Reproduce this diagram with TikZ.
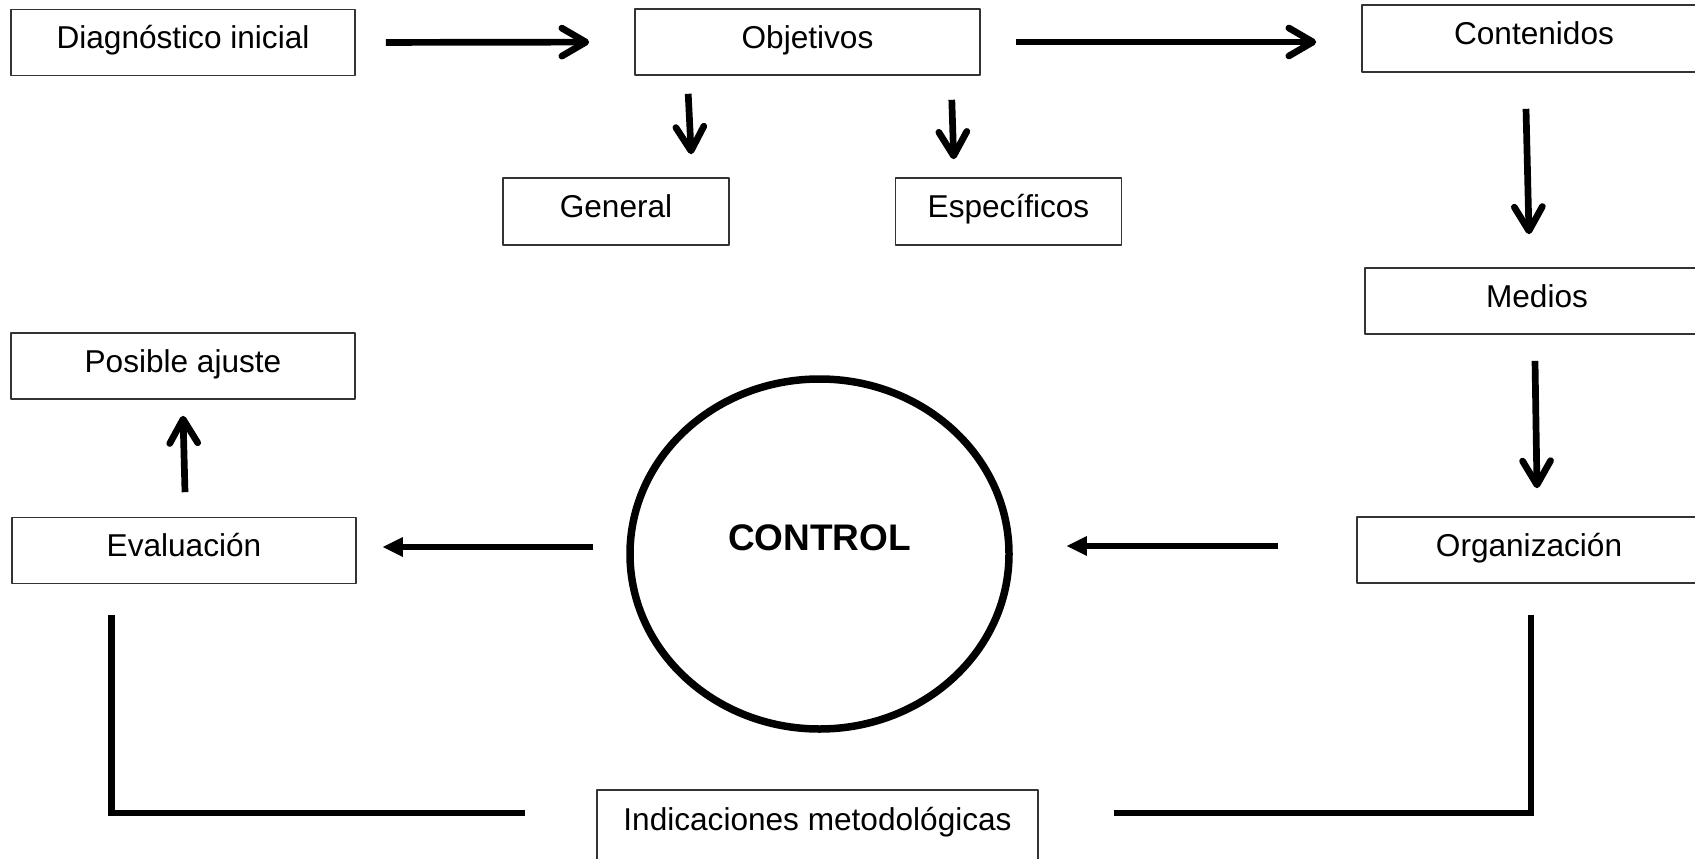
\documentclass[tikz,border=0pt]{standalone}
\usepackage{fontspec}
\setmainfont{Liberation Sans}
\usepackage{tikz}
\usetikzlibrary{arrows.meta}
\usetikzlibrary{shapes.geometric}
\usetikzlibrary{calc}
\begin{document}
\begin{tikzpicture}[line join=round,x=1bp,y=-1bp,
caja/.style={draw=black!80,line width=1.6bp,minimum width=344bp,minimum height=66bp,inner sep=0pt,text height=23bp,text depth=10.4bp,font=\fontsize{31.6bp}{38bp}\selectfont},
flecha/.style={line width=6.7bp,-{Straight Barb[length=24bp,width=28bp,round]}},
flechallena/.style={line width=6.7bp,-{Triangle[length=20bp,width=20bp,line width=0pt]}},
corchete/.style={line width=6.7bp,line join=miter}]
\useasboundingbox (0,0) rectangle (1695,858);
\clip (0,0) rectangle (1695,858);
\node[caja] (diag) at (183,42.5) {Diagnóstico inicial};
\node[caja,minimum width=345bp] (obj) at (807.5,42) {Objetivos};
\node[caja,minimum height=67bp] (cont) at (1534,38.5) {Contenidos};
\node[caja,minimum width=226bp,minimum height=67bp] (gen) at (616,211.5) {General};
\node[caja,minimum width=226bp,minimum height=67bp] (esp) at (1008.5,211.5) {Específicos};
\node[caja] (medios) at (1537,301) {Medios};
\node[caja] (org) at (1529,550) {Organización};
\node[caja] (eval) at (184,550.5) {Evaluación};
\node[caja] (posible) at (183,366) {Posible ajuste};
\node[caja,anchor=north,minimum width=441bp,minimum height=0pt,text height=41bp,text depth=40bp] (ind) at (817.5,789) {Indicaciones metodológicas};
\node[ellipse,draw,line width=7.5bp,minimum width=379bp,minimum height=350bp,inner sep=0pt,font=\bfseries\fontsize{37bp}{44bp}\selectfont,text height=26.5bp,text depth=34bp] (ctrl) at (819.5,554) {CONTROL};
\draw[flecha,shorten <=30bp,shorten >=45bp] (diag.east) -- (obj.west);
\draw[flecha,shorten <=35bp,shorten >=45bp] (obj.east) -- (obj.east -| cont.west);
\draw[flecha] ($(obj.south west)+(54,18)$) -- ($(gen.north west)+(189,-23)$);
\draw[flecha] ($(obj.south east)+(-29,24)$) -- ($(esp.north west)+(59,-18)$);
\draw[flecha] ($(cont.south)+(-8,36)$) -- ($(medios.north)+(-8,-33)$);
\draw[flecha] ($(medios.south)+(-2,26)$) -- ($(org.north)+(8,-28)$);
\draw[flechallena] ($(org.west)+(-78,-4)$) -- ($(ctrl.east)+(54,-8)$);
\draw[flechallena] ($(ctrl.west)+(-33,-7)$) -- ($(eval.east)+(26,-3.5)$);
\draw[flecha] ($(eval.north)+(1,-24.5)$) -- ($(posible.south)+(0,16)$);
\draw[corchete] ($(eval.south west)+(100,31)$) |- ($(ind.north west)+(-71,24)$);
\draw[corchete] ($(ind.north east)+(75,24)$) -| ($(org.south)+(2,31)$);
\end{tikzpicture}
\end{document}
